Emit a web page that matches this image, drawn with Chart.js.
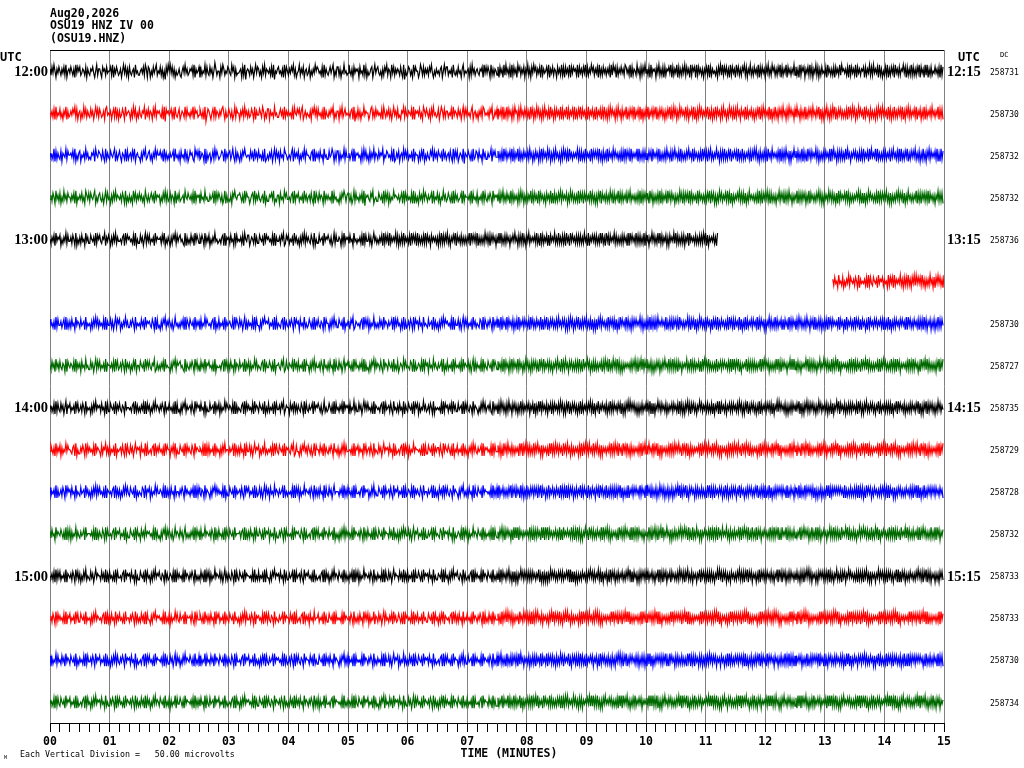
<!DOCTYPE html>
<html>
<head>
<meta charset="utf-8">
<title>OSU19 HNZ IV 00</title>
<script src="https://cdn.jsdelivr.net/npm/chart.js@4.4.1/dist/chart.umd.min.js"></script>
<style>
  html, body { margin: 0; padding: 0; background: #fff; }
  canvas { display: block; }
</style>
</head>
<body>
<canvas id="heli" width="1024" height="768"></canvas>
<script>
// header text
const titleLines = ["Aug20,2026", "OSU19 HNZ IV 00", "(OSU19.HNZ)"];

// x axis: minutes after the start of each line
const minuteLabels = ["00", "01", "02", "03", "04", "05", "06", "07",
  "08", "09", "10", "11", "12", "13", "14", "15"];

// one row every 15 minutes
const leftTimes = ["12:00", "", "", "", "13:00", "", "", "", "14:00", "", "", "", "15:00", "", "", ""];
const rightTimes = ["12:15", "", "", "", "13:15", "", "", "", "14:15", "", "", "", "15:15", "", "", ""];
const dcValues = ["258731", "258730", "258732", "258732", "258736", "", "258730", "258727",
  "258735", "258729", "258728", "258732", "258733", "258733", "258730", "258734"];

// first sample of each row (seconds into the row); row 5 starts late after the gap
const rowStartSec = [0, 0, 0, 0, 0, 788, 0, 0, 0, 0, 0, 0, 0, 0, 0, 0];
const SAMPLE_SEC = 1;

// counts around the row's DC level, 4 = centre, one digit per sample
const traceSamples = [
`3625147352 4635261743 5246371524 2653462735 6342574163
 3572436254 4261735246 5374152637 2564371546 6435261372
 3746253164 5263748251 4152637465 3674251536 5342617354
 2736451625 6253740364 4725136452 3561427365 5437261843
 4625374152 3647251634 5362718453 2546371624 6352416375
 4163527436 5274635142 3546271635 6425317462 2637451546
 5146372534 3725461627 4653274153 2564736241 6347152635
 3462571846 5236471524 4751362635 3624157463 5463274152
 2645371564 6254731645 4372615364 3563427152 5247163634
 6272537161 5362716253 7142635273 5163725142 6352716354
 2617352634 7253616272 5361725243 6172536251 7263514263
 5271636253 6352716142 7263525361 2536172634 6153726251
 5362716343 7251636272 6342517263 5172636251 6253716242
 7162536373 5261726354 6372516162 5263716253 7152636241
 6273516362 5361726253 7251636142 6362517263 5172536351
 6263716242 7352616273 5162736254 6271536362 7253616143
 5362716253 6172536342 7263516261 5352716374 6261736252
 7153626341 5272636162 6362517253 7161736264 5253627162`,
`4536271645 2647351736 5352416274 3746152635 6253741526
 2465372154 5374261637 3652471543 4736152746 2563417352
 6347251634 3562718243 5426371564 2753461625 4635172436
 5246371852 3574261634 6352147365 2463751624 4735261536
 3652471735 5246137462 2735461546 6425371635 3546271452
 4263175364 5637241526 2546371735 6352417463 3725164254
 5463271846 2637451534 4752163625 3546271463 5263741536
 2657341625 6345271734 3526471352 4637251546 5274136263
 3645271534 6253741625 2546317436 4735261254 5362417635
 2735261736 1625372614 3726153625 2637152736 1526372615
 3627153726 2536172635 1726352617 3625172536 2716352637
 1635272616 3726152537 2615372635 1736252617 3526172736
 2617352625 1736252637 3625172615 2736152536 1627352617
 3726152635 2517362736 1625372615 3736152627 2615372536
 1726352637 3625172615 2536172736 1637252615 3726152537
 2615372636 1736252615 3625172737 2516372615 1736252636
 3627152615 2736152537 1625372636 3726152615 2537162736
 1636252617 3725162635 2617352736 1726352615 3635172627`,
`3546172635 6273451624 4352617463 2745361536 5634271452
 3462571635 6245317364 2573461726 4362517435 5736241653
 2647351524 4253716364 6354271546 3725461637 5243671425
 2653471836 4375261524 6542371635 3264157263 5736241454
 4625371536 2546371764 6352741625 3725461346 5463172535
 2746351624 4563271735 3625471546 6254137362 2736451625
 5364271734 3547261526 4726351634 6253417452 3546271763
 5274361525 2645371634 4736251746 3562417253 6245371536
 4362571625 2753461834 5246371652 3625471536 6354172425
 5263627152 6352617263 5172636253 6261537362 5372616253
 6152736261 5363726152 6271536353 5162726361 6353716252
 5261637263 6172536152 5363627261 6252716353 5171636262
 6362527153 5261736362 6153627251 5362716363 6251536172
 5363627152 6272516363 5153726261 6362517352 5271636163
 6352627251 5163726362 6271536153 5362617262 6153727351
 5262636172 6371526253 5162736362 6253617151 5372626263
 6161537352 5263627261 6352716153 5171636362 6263527251
 5362617163 6251736252 5163627361 6372516253 5261737162`,
`5362471536 2746153624 4635271745 3526471352 6245317463
 2563741625 4736251534 5362471746 3647152635 2536471463
 6425371534 3746251626 5263471735 2654371452 4536271634
 3725461546 6354271625 2463751736 5637241453 3246371524
 4753261635 2564371746 6342517563 3725461425 5463271634
 2645371536 4362571724 6253471635 3546172546 5736241363
 2463751625 4635271834 3562417546 6245371625 2736451434
 5364271625 3546271736 4725361524 6354271645 2637451536
 5246371725 3654271634 4536172546 2745361625 6352471534
 3627251636 2537162635 3726152736 2635172625 3716253637
 2536172726 3625162535 2736152636 3617252725 2536162637
 3725172536 2636152726 3517262635 2725163536 3626172625
 2537152736 3626172635 2715262537 3636152726 2527162635
 3716253636 2625172527 3736152635 2616272736 3525162627
 2736153536 3627162725 2516272636 3735162527 2626153736
 3517262625 2736172536 3625162737 2536152626 3727162535
 2616273636 3525162727 2736152536 3627162625 2516372736
 3625162527 2736153636 3517262725 2626172536 3735162627`,
`4635271534 2746351625 5362471746 3625471536 6245371624
 2563417352 4736251635 5463271524 3546271746 6253741625
 2645371534 4362517463 5736241625 3254671736 4625371524
 6352471635 2746351546 5463271734 3625471625 4536271452
 2753461636 6245371524 3546271735 5362417624 2645371536
 4736251625 3562471746 6254371534 2463751625 5347261634
 3625471546 4536271625 5263741536 4635271
 6252716353 5162736261 6353627152 5271636362 6162537253
 5363726162 6251637352 5172536263 6363517152 5261736363
 6152627252 5373616163 6262537352 5153726261 6372516353
 5261637162 6352727253 5163616362 6271537152 5362626263
 6153717352 5262636161 6371527253 5162636362 6253717152
 5361626263 6172537351 5263616162 6352737253 5161626362
 6273517153 5362636262 6151727353 526371`,
`3625471546 2746351624 5362471735 4536271625 6245371534 2635471
 6252716353 5163726261 6372516152 5261637363 6153727251 526371`,
`2546371625 5364271736 3625471534 6254371645 4736251526
 3546271735 5263741624 2746351536 6352471645 4625371534
 3562471726 5736241635 2463751546 4635271724 6245371635
 3726451524 5463271746 2645371635 4356271524 6253741736
 3546271625 5736241434 2645371726 4563271635 6352471524
 3725461646 5246371735 2563471624 4736251536 6245371745
 3562417634 5463271525 2736451646 4625371534 6354271625
 2547361736 5362471624 3625471545 6254371636 4736251524
 3546271735 5263741625 2645371536 4562371724 6352471635
 2636172537 1625362736 2716352625 3627152636 2536172725
 1736252636 2615362527 3726152736 2517362625 1636272737
 2725162536 3616252627 2737152536 1626372625 2535162736
 3726172627 2615352536 1736262725 2627153636 3516272527
 2736152636 1625372725 2716362536 3627152627 2536172736
 1726352625 3617262537 2735162636 1626352727 2537162625
 3726152636 2615372527 1736262736 2627152625 3536172537
 2716352636 1625272725 3737162536 2526352627 1736172736
 2625362525 3717152636 2536272627 1627352736 2736162625`,
`4625371536 2563471724 5346271635 3725461546 6253741625
 2645371734 4536271526 5362471635 3746251744 6245371525
 2563417636 4635271545 5736241624 3254671735 6352471526
 4725361634 2546371745 5463271526 3625471634 6254371735
 2736451526 4563271635 5246371744 3562417625 6345271536
 2645371724 4736251635 5362471546 3625471725 6253741634
 2546371525 4635271736 5736241625 3462571534 6245371646
 2753461525 4562371736 5346271624 3725461535 6354271746
 2645371625 4536271534 5263741726 3546271635 6245371524
 6253627162 5372616253 6162537361 5263726252 6371526163
 5262637352 6153716261 5372526362 6261637153 5152736272
 6363527261 5271636152 6162737363 5353626251 6272516162
 5163627373 6252736251 5361626162 6272537353 5163616262
 6352727151 5261636363 6173526252 5362617161 6251737353
 5172626262 6363517151 5252736363 6161627252 5373516161
 6262637353 5151726262 6373516351 5262637162 6151727353
 5363616261 6272537152 5161626363 6352717251 5263636162
 6171527353 5362616261 6253737152 5161626363 6372517251`,
`3546271625 6253741734 2645371526 5362471645 4736251534
 3625471726 6245371635 2563471544 5463271636 4635271725
 3746251534 6352471645 2546371726 5736241635 4362571524
 3625471746 6254371635 2736451524 5346271736 4563271625
 3546271534 6245371746 2645371625 5362417534 4725361636
 3562471725 6354271534 2463751646 5246371725 4635271534
 3726451636 6253741525 2546371734 5463271625 4362571546
 3625471735 6245371624 2736451536 5362471745 4546271624
 3635271536 6254371725 2563471634 5746251526 4352671635
 3726152637 2615372526 3736162635 2527352727 3616162536
 2735272625 3626152737 2517362526 3736172635 2625162727
 3517352536 2736162625 3625272737 2516152526 3737362635
 2626172727 3515262536 2736352625 3627162737 2516272526
 3735152635 2626362727 3517172536 2735262625 3626152737
 2517362526 3736172635 2625262727 3516152536 2737362625
 3625172737 2516262526 3736152635 2627362727 3515172536
 2736262625 3627152737 2516362526 3735172635 2626262727
 3517152536 2736362625 3625172737 2517262526 3736152635`,
`5246371635 2736451524 4563271746 6352471625 3546271534
 5726341636 2645371745 4362571625 6253741534 3725461726
 5463271635 2546371524 4735261746 6245371625 3562471534
 5346271726 2645371635 4736251544 6354271636 3625471725
 5263741534 2746351646 4536271525 6245371734 3562417625
 5736241536 2463751724 4625371635 6352471546 3746251625
 5546371734 2635471526 4362571645 6253741534 3625471736
 5463271625 2736451534 4546371726 6245371635 3362571524
 5246371745 2645371636 4735261525 6354271734 3546271625
 5262737152 6153626363 5371517251 6262636162 5153727353
 6371616261 5262537152 6153726363 5372617251 6261536162
 5163727353 6352616261 5271537152 6163726363 5362617251
 6251536162 5173727353 6362616261 5251537152 6173726363
 5352617251 6261536162 5163727353 6372616261 5261537152
 6152726363 5373617251 6262536162 5151727353 6363616261
 5272537152 6151726363 5362617251 6273536162 5151727353
 6362616261 5273537152 6161726363 5352617251 6271536162
 5163727353 6352616261 5261537152 6173726363 5362617251`,
`2645371736 5362471524 3625471645 6254371536 4736251625
 2546371734 5463271636 3746251525 6245371746 4562371634
 2736451525 5346271736 3625471644 6352471535 4635271726
 2563471634 5736241525 3546271746 6245371635 4362571524
 2645371736 5263741625 3725461534 6354271646 4546271725
 2736451534 5362471636 3625471725 6253741544 4635271636
 2546371725 5463271534 3746251646 6245371625 4362571534
 2645371726 5346271635 3562471544 6354271736 4725361625
 2563471534 5736241646 3625471725 6245371534 4546271636
 2716352636 3625172527 2537162736 1636252625 2725172537
 3616352636 2537162627 1726252736 2635172625 3716362537
 2527152636 1736262627 2625172736 3717352625 2536162537
 1625272636 2736152627 3627362736 2516172625 1737252537
 2626362636 3715172627 2536252736 1627362625 2735172537
 3626252636 2517362627 1736172736 2625252625 3717362537
 2536172636 1625252627 2737362736 3616172625 2525252537
 1736362636 2627172627 3715252736 2536362625 1627172537
 2736252636 3625362627 2517172736 1736252625 2625362537`,
`3625471534 5246371726 2736451635 6354271544 4536271736
 3562471625 5463271534 2645371746 6245371625 4725361534
 3546271636 5736241725 2463751534 6253741646 4635271625
 3726451534 5362471736 2546371625 6245371544 4363271736
 3625471625 5246371534 2735461746 6352471625 4546271534
 3562471736 5463271625 2645371534 6254371746 4736251625
 3546271534 5362471636 2546371725 6245371534 4625371646
 3736251525 5263741634 2645371736 6354271625 4562371534
 3625471746 5346271625 2736451534 6245371636 4536271725
 6362516272 5253727161 6172536353 5361627262 6253716171
 5172536352 6361727153 5253616272 6162737351 5371526263
 6253617162 5162736353 6371526261 5253717162 6162536373
 5361627251 6272516163 5153727362 6362516251 5271637163
 6153727352 5362617261 6271536153 5163726362 6352617251
 5261736163 6172527352 5363616261 6251737153 5172626362
 6363517251 5252736163 6171627352 5373516261 6262637153
 5151726362 6373516251 5262637163 6151727352 5363616261
 6272537153 5161626362 6352717251 5263636163 6171527352`,
`4536271625 2645371734 5362471526 3746251645 6253741534
 4625371736 2546371625 5463271534 3625471746 6245371625
 4736251534 2563471636 5346271725 3546271534 6352471646
 4625371725 2736451534 5263741636 3562471725 6245371534
 4546271646 2645371725 5736241534 3625471636 6354271725
 4362571534 2546371646 5463271725 3746251534 6245371636
 4635271725 2736451534 5362471646 3546271725 6253741534
 4625371636 2645371725 5246371534 3625471646 6345271725
 4736251534 2563471636 5463271725 3546271534 6245371646
 3627162536 2516372727 3735152625 2626262536 3517372737
 2736152526 3625262635 2517172727 3736362536 2625152626
 3516272735 2737162527 3626352636 2515172725 3737262526
 2626352637 3517162725 2735272536 3626152627 2516362735
 3735172526 2627262637 3516152725 2736372536 3625162627
 2517252735 3736172526 2625362637 3517152725 2736262536
 3626372627 2515162735 3737252526 2626172637 3516362725
 2735152536 3627262627 2516372735 3735162526 2627252637
 3517172725 2736362536 3625152627 2517262735 3736372526`,
`5362471625 3546271734 2645371526 6245371645 4736251534
 5463271726 3625471635 2546371544 6352471636 4625371725
 5736241534 3546271646 2736451525 6254371734 4362571625
 5246371536 3625471724 2645371635 6245371546 4736251625
 5362471734 3546271526 2563471645 6354271534 4625371726
 5463271635 3725461544 2645371636 6245371725 4546271534
 5362471646 3625471525 2736451734 6253741625 4635271536
 5246371724 3546271635 2645371546 6245371625 4736251734
 5463271526 3625471645 2546371534 6352471726 4625371635
 5263716251 6152627363 5371536152 6262717261 5153627353
 6372516162 5261637251 6153726363 5372617152 6261536261
 5162737353 6353616162 5272527251 6161736363 5363617152
 6252526261 5171737353 6363616162 5252527251 6171736363
 5353617152 6262526261 5161737353 6373616162 5262527251
 6151736363 5373617152 6261526261 5152737353 6363616162
 5271527251 6152736363 5363617152 6272526261 5151737353
 6362616162 5272527251 6162736363 5353617152 6272526261
 5161737353 6353616162 5262527251 6171736363 5363617152`,
`2736451625 4625371534 6245371746 3546271625 5362471534
 2645371736 4736251625 6352471534 3625471746 5463271625
 2546371534 4536271636 6253741725 3746251534 5246371646
 2736451725 4625371534 6245371636 3562471725 5463271534
 2645371646 4736251725 6354271534 3546271636 5362471725
 2563471534 4625371646 6245371725 3625471534 5736241636
 2645371725 4546271534 6352471646 3546271725 5263741534
 2736451636 4625371725 6245371534 3625471646 5463271725
 2546371534 4736251636 6254371725 3546271534 5362471646
 2725163637 1636272526 2716153735 3627362627 2536172536
 1725262637 2636152725 3517372526 2726162637 1635252735
 2737162526 3626372637 2515162725 1736252536 2627362627
 3716172736 2525262625 1737152537 2626362636 3715172627
 2537262736 1626152625 2735372537 3617162636 2526252627
 1737362736 2625172625 3716252537 2537362636 1626172627
 2735252736 3617362625 2526172537 1737252636 2625362627
 3716172736 2537252625 1626362537 2735172636 3617252627
 2526362736 1737172625 2625252537 3716362636 2537172627`,
`3546271625 6245371534 2645371736 5463271625 4736251534
 3625471646 6352471725 2546371534 5362471636 4625371725
 3746251534 6245371646 2736451725 5246371534 4536271636
 3625471725 6254371534 2645371646 5463271725 4736251534
 3546271636 6245371725 2563471534 5362471646 4625371725
 3625471534 6352471636 2736451725 5463271534 4546271646
 3546271725 6245371534 2645371636 5736241725 4625371534
 3625471646 6253741725 2546371534 5362471636 4736251725
 3546271534 6245371646 2645371725 5463271534 4625371636
 6263517253 5172636162 6351727363 5262616251 6173537152
 5361626363 6252717261 5163536152 6372627353 5251616162
 6163737251 5352526363 6271617152 5163736261 6352527353
 5261616162 6173737251 5362526363 6251617152 5173736261
 6362527353 5251616162 6163737251 5372526363 6261617152
 5153736261 6372527353 5261616162 6153737251 5362526363
 6271617152 5163736261 6352527353 5271616162 6163737251
 5352526363 6261617152 5173736261 6362527353 5251616162
 6173737251 5362526363 6251617152 5163736261 6372527353`
];

const traceColors = ["#000000", "#ff0000", "#0000ff", "#006a00"];
const COUNT_TO_ROW = 0.05;   // vertical gain: one count in row units

const datasets = traceSamples.map((s, row) => {
  const counts = s.replace(/\s+/g, "").split("").map(Number);
  const pts = counts.map((c, i) => ({
    x: rowStartSec[row] + i * SAMPLE_SEC,
    y: row + (c - 4) * COUNT_TO_ROW
  }));
  return {
    data: pts,
    borderColor: traceColors[row % 4],
    borderWidth: 1.2,
    pointRadius: 0,
    tension: 0,
    fill: false
  };
});

const mono = '"DejaVu Sans Mono", "Liberation Mono", monospace';
const serif = '"Liberation Serif", "DejaVu Serif", serif';

const heliText = {
  id: "heliText",
  afterDraw(chart) {
    const ctx = chart.ctx;
    const area = chart.chartArea;
    const y = chart.scales.y;
    ctx.save();

    // top frame line
    ctx.strokeStyle = "#000";
    ctx.lineWidth = 1;
    ctx.beginPath();
    ctx.moveTo(area.left, area.top + 0.5);
    ctx.lineTo(area.right, area.top + 0.5);
    ctx.stroke();

    ctx.fillStyle = "#000";
    ctx.textBaseline = "alphabetic";
    ctx.textAlign = "left";
    ctx.font = "bold 11.5px " + mono;
    titleLines.forEach((t, i) => ctx.fillText(t, area.left, 16.5 + i * 12.5));

    ctx.font = "bold 12px " + mono;
    ctx.fillText("UTC", 0, 61);
    ctx.fillText("UTC", 958, 61);
    ctx.font = "7px " + mono;
    ctx.fillText("DC", 1000, 56.5);

    ctx.textBaseline = "middle";
    ctx.font = "bold 14.5px " + serif;
    leftTimes.forEach((t, row) => {
      if (!t) return;
      ctx.textAlign = "right";
      ctx.fillText(t, area.left - 2, y.getPixelForValue(row) + 1);
    });
    rightTimes.forEach((t, row) => {
      if (!t) return;
      ctx.textAlign = "left";
      ctx.fillText(t, area.right + 3, y.getPixelForValue(row) + 1);
    });
    ctx.textAlign = "left";
    ctx.font = "8px " + mono;
    dcValues.forEach((v, row) => {
      if (v) ctx.fillText(v, 990, y.getPixelForValue(row) + 1.5);
    });

    ctx.textBaseline = "alphabetic";
    ctx.textAlign = "center";
    ctx.font = "bold 11.5px " + mono;
    ctx.fillText("TIME (MINUTES)", 509, 757);

    ctx.textAlign = "left";
    ctx.font = "8.3px " + mono;
    ctx.fillText("Each Vertical Division =   50.00 microvolts", 20, 757);
    ctx.font = "5px " + mono;
    ctx.fillText("M", 4, 759);
    ctx.restore();
  }
};

new Chart(document.getElementById("heli"), {
  type: "line",
  data: { datasets: datasets },
  options: {
    responsive: false,
    animation: false,
    events: [],
    layout: { padding: { left: 50, right: 80, top: 50, bottom: 0 } },
    plugins: { legend: { display: false }, tooltip: { enabled: false } },
    scales: {
      x: {
        type: "linear",
        min: 0,
        max: 900,
        afterFit: (scale) => { scale.height = 45; },
        border: { display: true, color: "#000", width: 1 },
        grid: {
          color: (c) => (c.tick && c.tick.value % 60 === 0 ? "#808080" : "rgba(0,0,0,0)"),
          tickColor: "#000",
          tickLength: 9,
          lineWidth: 1
        },
        ticks: {
          stepSize: 10,
          maxTicksLimit: 200,
          autoSkip: false,
          maxRotation: 0,
          padding: 3,
          color: "#000",
          font: { family: mono, size: 11.5, weight: "bold" },
          callback: (v) => (v % 60 === 0 ? minuteLabels[v / 60] : "")
        }
      },
      y: {
        type: "linear",
        display: false,
        min: -0.5,
        max: 15.5,
        reverse: true
      }
    }
  },
  plugins: [heliText]
});
</script>
</body>
</html>
